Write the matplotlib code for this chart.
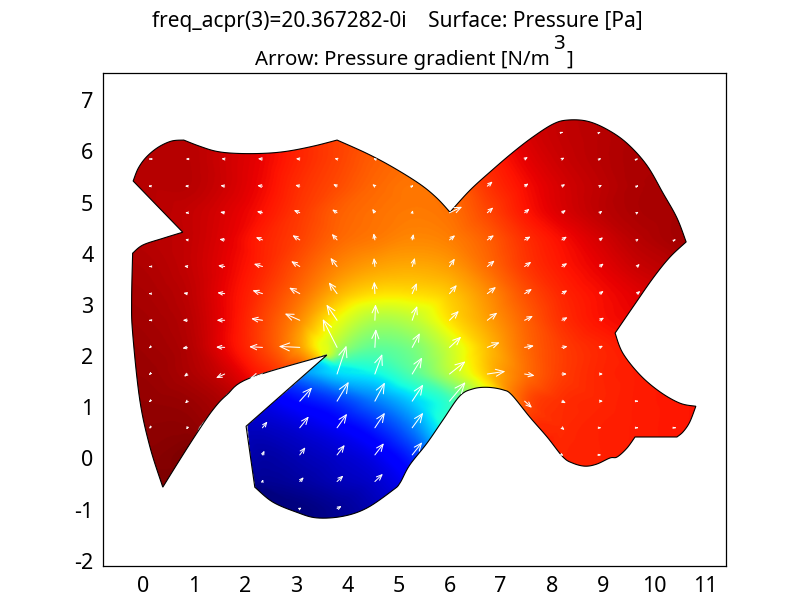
import numpy as np
import matplotlib
matplotlib.use('Agg')
import matplotlib.pyplot as plt
import matplotlib.tri as mtri
from matplotlib.patches import FancyArrowPatch, Polygon
from matplotlib.path import Path

plt.rcParams['font.family'] = ['Noto Sans', 'DejaVu Sans']

# boundary of the domain, clockwise from the notch on the upper left
outline_x = [-0.19, -0.09, 0.07, 0.30, 0.56, 0.80, 1.11, 1.44, 1.83, 2.35, 2.81, 3.33, 3.80, 4.38, 4.89, 5.42, 5.75,
             6.01, 6.40, 6.83, 7.24, 7.63, 8.02, 8.30, 8.69, 9.08, 9.47, 9.86, 10.18, 10.45, 10.63, 10.31, 9.98, 9.59,
             9.24, 9.39, 9.73, 10.12, 10.51, 10.82, 10.70, 10.57, 10.45, 9.63, 9.47, 9.28, 9.14, 8.88, 8.65, 8.41,
             8.22, 7.91, 7.57, 7.22, 7.05, 6.75, 6.46, 6.20, 5.87, 5.56, 5.22, 5.03, 4.89, 4.38, 3.91, 3.40, 3.01,
             2.54, 2.19, 2.02, 3.60, 2.09, 1.64, 1.37, 1.06, 0.72, 0.39, 0.14, -0.06, -0.20, -0.22, -0.20, 0.00, 0.39,
             0.78]
outline_y = [5.42, 5.67, 5.89, 6.08, 6.20, 6.22, 6.10, 6.00, 5.96, 5.96, 6.00, 6.10, 6.22, 5.96, 5.69, 5.36, 5.09,
             4.81, 5.24, 5.63, 5.98, 6.28, 6.53, 6.61, 6.59, 6.43, 6.16, 5.73, 5.18, 4.70, 4.23, 3.93, 3.52, 2.96,
             2.45, 2.06, 1.63, 1.30, 1.08, 1.02, 0.71, 0.52, 0.42, 0.42, 0.20, 0.03, 0.01, -0.11, -0.15, -0.09,
             0.03, 0.42, 0.81, 1.24, 1.34, 1.39, 1.36, 1.22, 0.75, 0.30, -0.13, -0.48, -0.62, -0.97, -1.13, -1.16,
             -1.05, -0.85, -0.56, 0.63, 2.02, 1.57, 1.24, 0.95, 0.50, -0.03, -0.56, 0.22, 1.14, 2.45, 3.09, 4.01, 4.17,
             4.30, 4.42]
# outline vertices where the boundary has a sharp corner
corners = [0, 5, 12, 17, 30, 34, 39, 42, 43, 68, 69, 70, 76, 81, 84]

# the white bay between the left spike and the lower lobe
bay_x = [3.60, 2.09, 1.64, 1.37, 1.06, 0.72, 0.39, 2.19, 2.02]
bay_y = [2.02, 1.57, 1.24, 0.95, 0.50, -0.03, -0.56, -0.56, 0.63]

field_x = [-0.60, 0.14, 0.87, 1.60, 2.34, 3.07, 3.80, 4.54, 5.27, 6.00, 6.74, 7.47, 8.20, 8.94, 9.67, 10.41, 11.14]
field_y = [6.90, 6.37, 5.85, 5.32, 4.80, 4.27, 3.75, 3.22, 2.70, 2.17, 1.65, 1.12, 0.60, 0.07, -0.45, -0.98, -1.50]
nan = float('nan')
pressure = [
    [.95, .95, .95, .93, .91, .87, .84, .82, .83, .85, .88, .92, .94, .95, .96, .96, .96],
    [.95, .95, .95, .93, .91, .87, .84, .82, .83, .85, .88, .92, .94, .95, .96, .96, .96],
    [.95, .95, .95, .93, .905, .87, .84, .81, .80, .82, .87, .91, .935, .95, .96, .96, .96],
    [.95, .95, .95, .93, .90, .86, .83, .80, .785, .80, .855, .895, .925, .945, .96, .96, .96],
    [.95, .95, .94, .92, .89, .85, .81, .79, .78, .79, .835, .885, .92, .945, .96, .965, .97],
    [.96, .95, .94, .915, .875, .84, .80, .78, .765, .775, .81, .86, .895, .925, .95, .965, .97],
    [.96, .955, .94, .91, .87, .82, .77, .74, .73, .745, .795, .85, .885, .91, .935, .95, .96],
    [.965, .96, .945, .905, .855, .795, .72, .675, .675, .70, .76, .825, .87, .895, .915, .94, .96],
    [.97, .965, .95, .905, .84, .76, .64, .56, .58, .67, .74, .805, .86, .89, .905, .92, .94],
    [.975, .97, .955, .905, .84, .74, .56, .47, .50, .60, .71, .795, .845, .87, .885, .89, .895],
    [.975, .975, .96, .93, nan, nan, .34, .37, .45, .57, .70, .79, .845, .87, .88, .89, .89],
    [.98, .98, .975, nan, nan, nan, .18, .25, .33, .42, .60, .82, .86, .87, .88, .885, .89],
    [.985, .985, .985, nan, .06, .08, .11, .16, .25, .42, .60, .84, .865, .875, .88, .885, .89],
    [.99, .99, 1.0, nan, .035, .05, .07, .10, .17, .30, .60, .85, .87, .875, .88, .885, .89],
    [1.0, 1.0, 1.0, nan, .02, .03, .05, .07, .12, .20, .50, .87, .87, .875, .88, .885, .89],
    [1.0, 1.0, 1.0, 1.0, .00, .00, .02, .05, .10, .20, .50, .87, .87, .875, .88, .885, .89],
    [1.0, 1.0, 1.0, 1.0, .00, .00, .02, .05, .10, .20, .50, .87, .87, .875, .88, .885, .89],
]

# extra samples on both sides of the slit and round its tip
edge_x = [1.11, 1.64, 2.09, 2.60, 3.10, 3.40, 3.60, 3.50, 3.20, 2.90, 2.60, 2.30, 2.04, 2.10, 2.19, 3.40, 3.20, 3.60, 3.90, 3.80]
edge_y = [0.61, 1.24, 1.57, 1.73, 1.87, 1.96, 2.02, 1.93, 1.65, 1.38, 1.13, 0.87, 0.63, 0.00, -0.56, 2.20, 2.10, 2.30, 2.00, 1.80]
edge_p = [.98, .95, .90, .85, .79, .70, .60, .40, .28, .17, .11, .08, .06, .04, .02, .65, .72, .62, .48, .37]

# pressure gradient arrows, sampled on a regular grid, 0 means no arrow drawn
arrow_x = [0.14, 0.87, 1.60, 2.34, 3.07, 3.80, 4.54, 5.27, 6.00, 6.74, 7.47, 8.20, 8.94, 9.67, 10.41]
arrow_y = [6.37, 5.85, 5.32, 4.80, 4.27, 3.75, 3.22, 2.70, 2.17, 1.65, 1.12, 0.60, 0.07, -0.45, -0.98]
arrow_u = [
    [0, 0, 0, 0, 0, 0, 0, 0, 0, 0, 0, 3, 2, 0, 0],
    [-2, -4, -10, -14, -12, -8, -4, 0, 0, 0, 10, 8, 4, 2, 0],
    [-5, -7, -13, -16, -14, -12, -8, 4, 0, 16, 12, 10, 7, 4, 0],
    [0, -6, -14, -17, -18, -15, -8, 2, 38, 18, 15, 12, 8, 5, 0],
    [0, -7, -16, -20, -22, -16, -4, 4, 17, 20, 18, 15, 10, 5, 2],
    [-3, -10, -20, -26, -26, -20, -3, 8, 16, 22, 20, 16, 12, 8, 0],
    [-4, -12, -22, -30, -32, -25, -2, 14, 22, 26, 22, 16, 12, 10, 0],
    [-3, -14, -24, -34, -45, -32, 2, 15, 28, 30, 25, 17, 13, 0, 0],
    [-3, -15, -26, -40, -63, -43, 3, 23, 35, 37, 28, 17, 10, 0, 0],
    [-3, -10, -26, -38, 0, 28, 22, 30, 48, 54, 30, 15, 10, 0, 0],
    [-3, -7, 0, 0, 37, 35, 30, 33, 48, 0, 22, 12, 10, 3, 0],
    [-2, -3, 0, 15, 27, 30, 30, 33, 0, 0, 0, 8, 4, 3, 2],
    [0, 0, 0, 6, 17, 23, 27, 30, 0, 0, 0, 4, 3, 0, 0],
    [0, 0, 0, 2, 12, 19, 24, 0, 0, 0, 0, 0, 0, 0, 0],
    [0, 0, 0, 0, 6, 14, 0, 0, 0, 0, 0, 0, 0, 0, 0],
]
arrow_v = [
    [0, 0, 0, 0, 0, 0, 0, 0, 0, 0, 0, 1, 1, 0, 0],
    [0, 0, 1, 1, 1, 2, 2, 0, 0, 0, 6, 4, 2, 1, 0],
    [0, 0, 2, 2, 3, 6, 6, 2, 0, 14, 8, 6, 4, 2, 0],
    [0, 0, 2, 4, 8, 10, 12, 8, 18, 16, 12, 8, 6, 3, 0],
    [0, 1, 2, 8, 14, 18, 20, 18, 14, 14, 10, 10, 8, 4, 1],
    [0, 1, 3, 8, 16, 26, 26, 26, 24, 18, 14, 10, 9, 8, 0],
    [0, 2, 3, 10, 18, 34, 36, 32, 26, 20, 14, 10, 8, 8, 0],
    [0, 0, 0, 5, 20, 47, 48, 43, 28, 23, 13, 9, 8, 0, 0],
    [-3, -3, 1, 2, 3, 85, 55, 43, 32, 15, 5, 3, 5, 0, 0],
    [-3, -8, -12, -14, 0, 85, 60, 50, 38, 8, -5, 0, 0, 0, 0],
    [-3, -7, 0, 0, 41, 58, 56, 50, 57, 0, -20, -6, 0, 0, 0],
    [-3, -6, 0, 19, 34, 42, 45, 45, 0, 0, 0, -7, 0, 0, 0],
    [0, 0, 0, 13, 23, 30, 35, 38, 0, 0, 0, -3, 0, 0, 0],
    [0, 0, 0, 7, 13, 18, 23, 0, 0, 0, 0, 0, 0, 0, 0],
    [0, 0, 0, 0, 3, 8, 0, 0, 0, 0, 0, 0, 0, 0, 0],
]
arrow_scale = 1 / 153.0

xticks = list(range(0, 12))
yticks = list(range(-2, 8))


def smooth_outline(xs, ys, corner_ids, steps=8):
    # catmull-rom between the read vertices, corners stay sharp
    pts = np.column_stack([xs, ys])
    n = len(pts)
    out = []
    for i in range(n):
        p1, p2 = pts[i], pts[(i + 1) % n]
        p0 = p1 if i in corner_ids else pts[i - 1]
        p3 = p2 if (i + 1) % n in corner_ids else pts[(i + 2) % n]
        for t in np.linspace(0, 1, steps, endpoint=False):
            out.append(0.5 * (2 * p1 + (p2 - p0) * t + (2 * p0 - 5 * p1 + 4 * p2 - p3) * t ** 2
                              + (3 * p1 - p0 - 3 * p2 + p3) * t ** 3))
    return np.array(out)


# build the interpolated surface, cutting the triangles that cross the bay
gx, gy = np.meshgrid(field_x, field_y)
p = np.array(pressure)
keep = ~np.isnan(p)
nx = np.concatenate([gx[keep], edge_x])
ny = np.concatenate([gy[keep], edge_y])
node_p = np.concatenate([p[keep], edge_p])
triang = mtri.Triangulation(nx, ny)
bay = Path(np.column_stack([bay_x, bay_y]))
centres = np.column_stack([nx[triang.triangles].mean(axis=1), ny[triang.triangles].mean(axis=1)])
triang.set_mask(bay.contains_points(centres))
interp = mtri.CubicTriInterpolator(triang, node_p, kind='geom')

xi = np.linspace(-0.6, 11.14, 940)
yi = np.linspace(-1.5, 6.9, 670)
xx, yy = np.meshgrid(xi, yi)
zz = np.ma.clip(interp(xx, yy), 0, 1)

fig = plt.figure(figsize=(8, 6), dpi=100)
ax = fig.add_axes([103 / 800, 34 / 600, 623 / 800, 493 / 600])

boundary = smooth_outline(outline_x, outline_y, corners)
shape = Polygon(boundary, closed=True, transform=ax.transData)
im = ax.imshow(zz, extent=[xi[0], xi[-1], yi[0], yi[-1]], origin='lower', cmap='jet', vmin=0, vmax=1,
               interpolation='bilinear', aspect='auto')
im.set_clip_path(shape)
ax.add_patch(Polygon(boundary, closed=True, fill=False, edgecolor='black', lw=0.8))

for j, y in enumerate(arrow_y):
    for i, x in enumerate(arrow_x):
        u = arrow_u[j][i] * arrow_scale
        v = arrow_v[j][i] * arrow_scale
        if u == 0 and v == 0:
            continue
        size = np.hypot(arrow_u[j][i], arrow_v[j][i]) / 3
        head = min(0.4 * size, 9) + 1
        ax.add_patch(FancyArrowPatch((x, y), (x + u, y + v), arrowstyle='->,head_length=1,head_width=0.42',
                                     mutation_scale=head * 0.72, shrinkA=0, shrinkB=0, color='white', lw=0.75))

ax.set_xlim(-0.78, 11.41)
ax.set_ylim(-2.1, 7.53)
ax.set_xticks(xticks)
ax.set_yticks(yticks)
ax.set_yticklabels([str(t) for t in yticks])
ax.tick_params(length=0, labelsize=15.5, pad=7)
for s in ax.spines.values():
    s.set_linewidth(0.9)

fig.text(152 / 800, 1 - 27 / 600, 'freq_acpr(3)=20.367282-0i    Surface: Pressure [Pa]', fontsize=15, va='baseline')
fig.text(255 / 800, 1 - 65 / 600, 'Arrow: Pressure gradient [N/m', fontsize=14.7, va='baseline')
fig.text(553.5 / 800, 1 - 49 / 600, '3', fontsize=14.7, va='baseline')
fig.text(566 / 800, 1 - 65 / 600, ']', fontsize=14.7, va='baseline')

plt.savefig('out.png', dpi=100)
